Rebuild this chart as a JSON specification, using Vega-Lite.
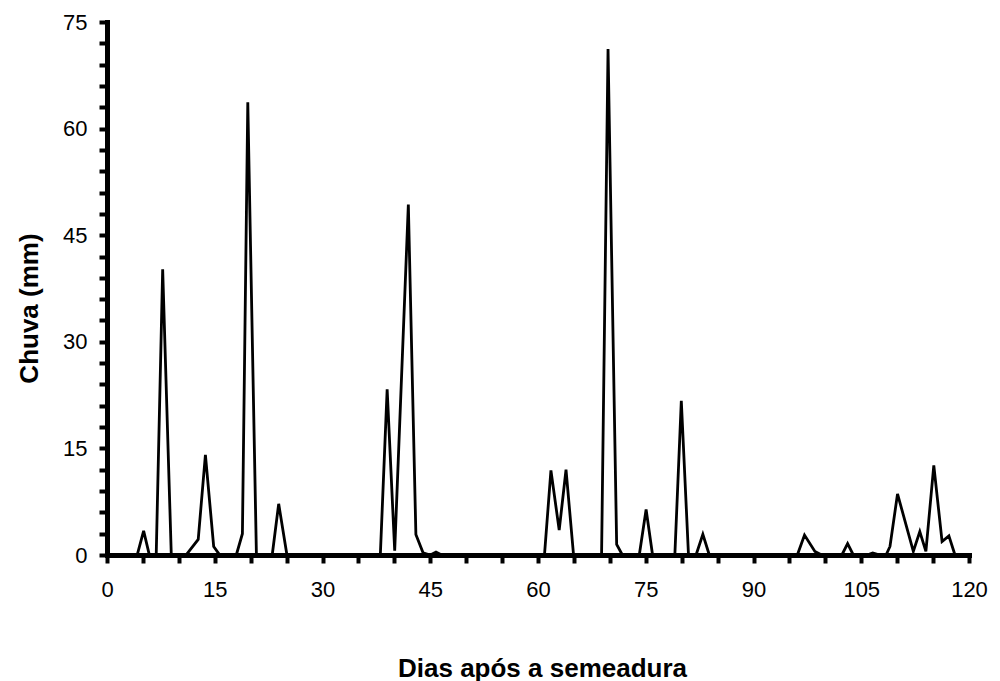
{
  "$schema": "https://vega.github.io/schema/vega-lite/v6.json",
  "autosize": "none",
  "width": 862,
  "height": 533,
  "padding": {"left": 107, "top": 22, "right": 31, "bottom": 126},
  "background": "white",
  "config": {"view": {"stroke": null}, "font": "Liberation Sans"},
  "data": {
    "values": [
      {"dia": 0, "chuva": 0},
      {"dia": 4.2, "chuva": 0},
      {"dia": 5.1, "chuva": 3.4},
      {"dia": 5.9, "chuva": 0},
      {"dia": 6.85, "chuva": 0},
      {"dia": 7.75, "chuva": 40.2},
      {"dia": 8.95, "chuva": 0},
      {"dia": 11.0, "chuva": 0},
      {"dia": 12.7, "chuva": 2.2},
      {"dia": 13.7, "chuva": 14.1},
      {"dia": 14.85, "chuva": 1.2},
      {"dia": 15.7, "chuva": 0},
      {"dia": 18.0, "chuva": 0},
      {"dia": 18.85, "chuva": 3.0},
      {"dia": 19.6, "chuva": 63.7},
      {"dia": 20.8, "chuva": 0},
      {"dia": 23.0, "chuva": 0},
      {"dia": 23.9, "chuva": 7.2},
      {"dia": 25.05, "chuva": 0},
      {"dia": 38.05, "chuva": 0},
      {"dia": 39.0, "chuva": 23.3},
      {"dia": 40.05, "chuva": 0.6},
      {"dia": 41.95, "chuva": 49.3},
      {"dia": 43.0, "chuva": 2.9},
      {"dia": 44.0, "chuva": 0.3},
      {"dia": 45.0, "chuva": 0},
      {"dia": 45.8, "chuva": 0.4},
      {"dia": 46.6, "chuva": 0},
      {"dia": 60.9, "chuva": 0},
      {"dia": 61.8, "chuva": 11.9},
      {"dia": 62.95, "chuva": 3.5},
      {"dia": 63.9, "chuva": 12.0},
      {"dia": 64.95, "chuva": 0},
      {"dia": 68.85, "chuva": 0},
      {"dia": 69.75, "chuva": 71.2},
      {"dia": 70.95, "chuva": 1.5},
      {"dia": 71.75, "chuva": 0},
      {"dia": 74.1, "chuva": 0},
      {"dia": 75.05, "chuva": 6.4},
      {"dia": 75.95, "chuva": 0},
      {"dia": 79.05, "chuva": 0},
      {"dia": 79.95, "chuva": 21.7},
      {"dia": 80.95, "chuva": 0},
      {"dia": 82.0, "chuva": 0},
      {"dia": 82.95, "chuva": 2.9},
      {"dia": 83.85, "chuva": 0},
      {"dia": 96.1, "chuva": 0},
      {"dia": 97.1, "chuva": 2.8},
      {"dia": 98.55, "chuva": 0.5},
      {"dia": 99.5, "chuva": 0},
      {"dia": 102.3, "chuva": 0},
      {"dia": 103.1, "chuva": 1.6},
      {"dia": 103.9, "chuva": 0},
      {"dia": 105.8, "chuva": 0},
      {"dia": 106.6, "chuva": 0.3},
      {"dia": 107.6, "chuva": 0},
      {"dia": 108.45, "chuva": 0},
      {"dia": 109.0, "chuva": 1.2},
      {"dia": 110.05, "chuva": 8.6},
      {"dia": 112.25, "chuva": 0.5},
      {"dia": 113.15, "chuva": 3.3},
      {"dia": 114.0, "chuva": 0.5},
      {"dia": 115.1, "chuva": 12.6},
      {"dia": 116.25, "chuva": 1.9},
      {"dia": 117.2, "chuva": 2.7},
      {"dia": 118.05, "chuva": 0}
    ]
  },
  "mark": {"type": "line", "color": "black", "strokeWidth": 2.8, "strokeJoin": "miter"},
  "encoding": {
    "x": {
      "field": "dia",
      "type": "quantitative",
      "scale": {"domain": [0, 120], "nice": false},
      "axis": {
        "title": "Dias após a semeadura",
        "values": [0, 5, 10, 15, 20, 25, 30, 35, 40, 45, 50, 55, 60, 65, 70, 75, 80, 85, 90, 95, 100, 105, 110, 115, 120],
        "labelExpr": "datum.value % 15 === 0 ? datum.label : ''",
        "labelOverlap": false,
        "labelFlush": false,
        "grid": false,
        "domainColor": "black",
        "domainWidth": 5,
        "domainCap": "square",
        "tickColor": "black",
        "tickWidth": 4,
        "tickSize": 8,
        "labelFontSize": 22,
        "labelColor": "black",
        "labelPadding": 16,
        "titleFontSize": 26,
        "titleFontWeight": "bold",
        "titleColor": "black",
        "titleX": 435,
        "titleY": 121,
        "titleBaseline": "alphabetic"
      }
    },
    "y": {
      "field": "chuva",
      "type": "quantitative",
      "scale": {"domain": [0, 75], "nice": false},
      "axis": {
        "title": "Chuva (mm)",
        "values": [0, 3, 6, 9, 12, 15, 18, 21, 24, 27, 30, 33, 36, 39, 42, 45, 48, 51, 54, 57, 60, 63, 66, 69, 72, 75],
        "labelExpr": "datum.value % 15 === 0 ? datum.label : ''",
        "labelOverlap": false,
        "labelFlush": false,
        "grid": false,
        "domainColor": "black",
        "domainWidth": 5,
        "domainCap": "square",
        "tickColor": "black",
        "tickWidth": 4,
        "tickSize": 8,
        "labelFontSize": 22,
        "labelColor": "black",
        "labelPadding": 12,
        "titleFontSize": 26,
        "titleFontWeight": "bold",
        "titleColor": "black",
        "titleX": -70,
        "titleY": 286,
        "titleAlign": "center",
        "titleBaseline": "alphabetic"
      }
    }
  }
}
